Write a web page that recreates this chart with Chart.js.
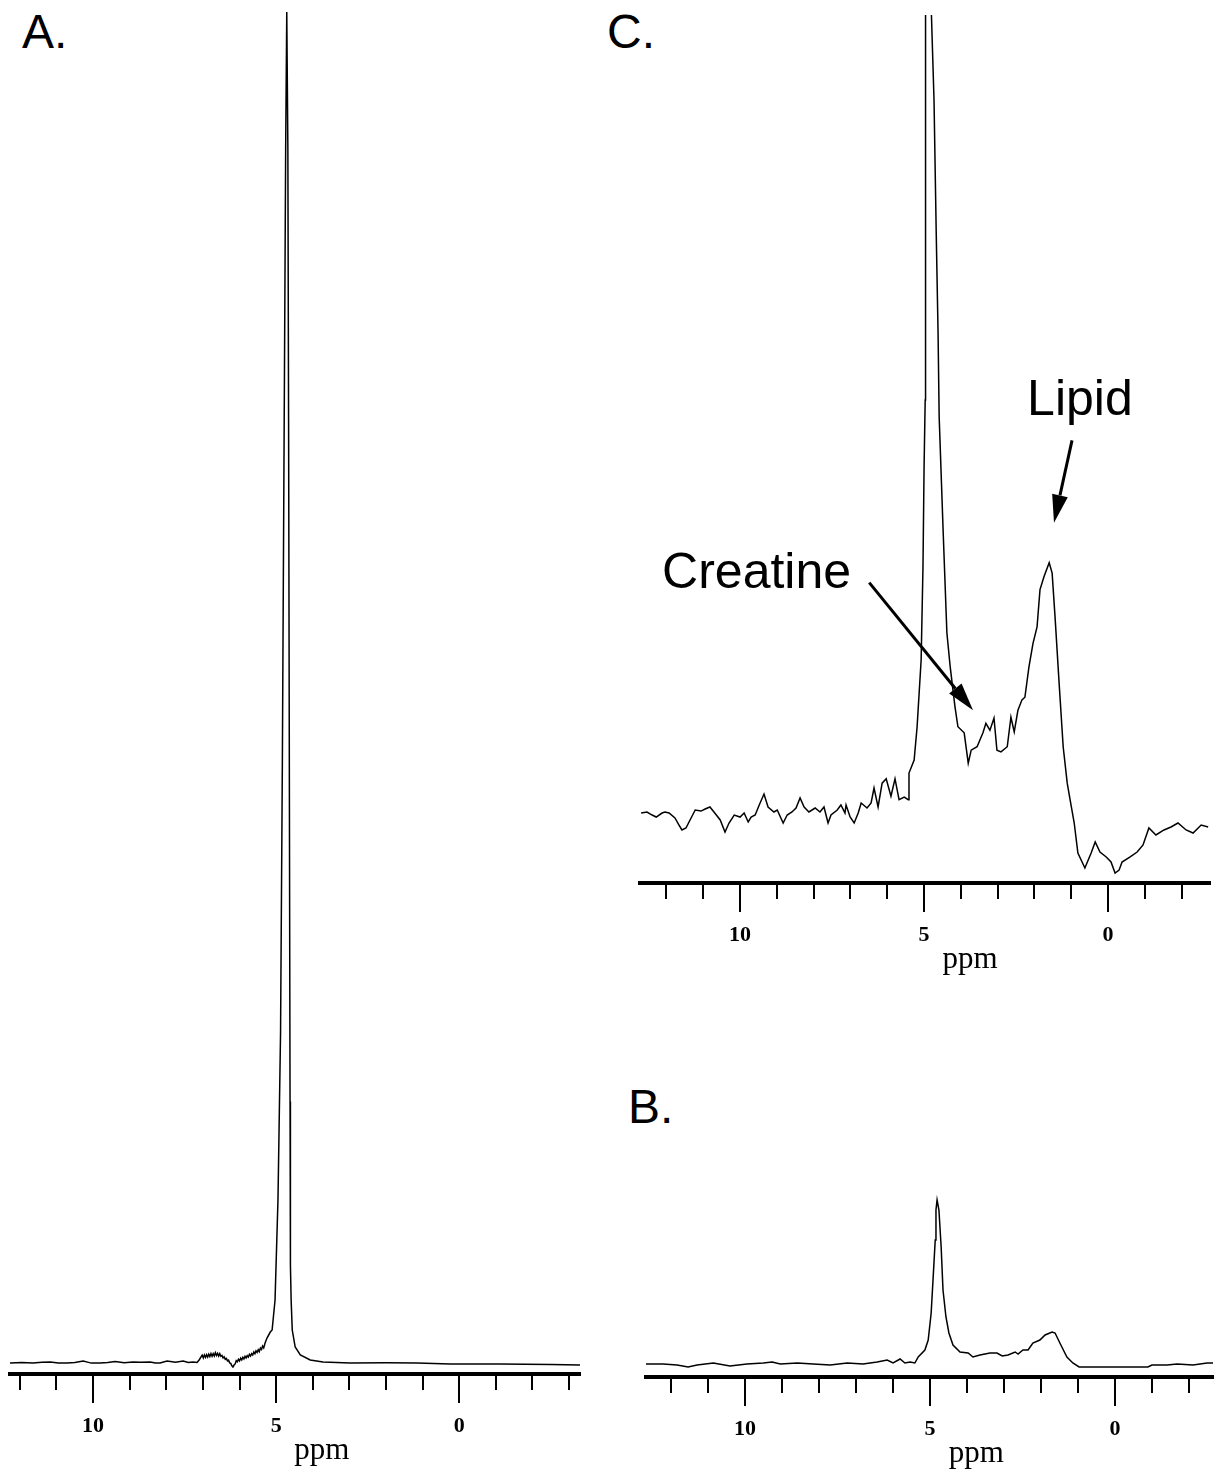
<!doctype html>
<html lang="en">
<head>
<meta charset="utf-8">
<title>Spectra A, B, C</title>
<script src="https://cdn.jsdelivr.net/npm/chart.js"></script>
<style>
  * { margin: 0; padding: 0; }
  body { background: #fff; width: 1215px; height: 1475px; position: relative; overflow: hidden; }
  canvas { position: absolute; }
  .tag { position: absolute; font-family: 'Liberation Sans', Arial, sans-serif; font-size: 48px; line-height: 1; color: #000; }
</style>
</head>
<body>
<div class="tag" style="left:22px;top:8px">A.</div>
<div class="tag" style="left:607px;top:8px">C.</div>
<div class="tag" style="left:628px;top:1083px">B.</div>
<canvas id="chartA" width="610" height="1475" style="left:0;top:0"></canvas>
<canvas id="chartC" width="595" height="1000" style="left:620px;top:0"></canvas>
<canvas id="chartB" width="595" height="315" style="left:620px;top:1160px"></canvas>
<script>
// ---- data (ppm, relative intensity) ----
const majorTicks = [10, 5, 0];
const ppmLabelAt = 3.75;

// A. unsuppressed water
const ppmA = [12.27, 11.95, 11.64, 11.40, 11.17, 10.95, 10.71, 10.50, 10.27, 10.05,
  9.81, 9.60, 9.40, 9.15, 8.91, 8.70, 8.44, 8.30, 8.17, 7.98,
  7.75, 7.54, 7.40, 7.27, 7.16, 7.10, 7.06, 7.02, 6.99, 6.96,
  6.93, 6.90, 6.87, 6.84, 6.81, 6.78, 6.75, 6.72, 6.69, 6.66,
  6.63, 6.60, 6.57, 6.54, 6.51, 6.48, 6.45, 6.42, 6.39, 6.36,
  6.33, 6.30, 6.27, 6.24, 6.21, 6.18, 6.15, 6.12, 6.09, 6.06,
  6.03, 6.00, 5.97, 5.94, 5.91, 5.88, 5.85, 5.82, 5.79, 5.76,
  5.73, 5.70, 5.67, 5.64, 5.61, 5.58, 5.55, 5.52, 5.49, 5.46,
  5.43, 5.40, 5.37, 5.34, 5.30, 5.25, 5.16, 5.11,
  5.03, 4.95, 4.88, 4.83, 4.78, 4.74, 4.71, 4.68, 4.66, 4.64,
  4.62, 4.61, 4.59, 4.56, 4.48, 4.34, 4.07, 3.72, 2.98, 2.00,
  1.15, 0.25, -1.12, -2.50, -3.30];
const intA = [0.81, 0.85, 0.81, 0.86, 0.88, 0.80, 0.81, 0.84, 0.95, 0.80,
  0.81, 0.85, 0.92, 0.82, 0.88, 0.86, 0.88, 0.80, 0.81, 0.95,
  0.86, 0.95, 0.84, 0.88, 0.84, 1.05, 1.22, 1.38, 1.18, 1.40,
  1.22, 1.42, 1.24, 1.46, 1.28, 1.50, 1.30, 1.50, 1.32, 1.56,
  1.36, 1.52, 1.32, 1.50, 1.30, 1.36, 1.18, 1.26, 1.08, 1.14,
  0.96, 1.02, 0.82, 0.78, 0.60, 0.52, 0.66, 0.74, 0.98, 0.90,
  1.08, 0.96, 1.16, 1.04, 1.22, 1.10, 1.30, 1.18, 1.34, 1.24,
  1.44, 1.32, 1.50, 1.40, 1.62, 1.48, 1.70, 1.58, 1.78, 1.64,
  1.90, 1.80, 2.05, 1.92, 2.30, 2.64, 3.08, 3.23,
  5.43, 12.8, 25.0, 45.0, 70.0, 90.0, 100, 90.0, 70.0, 45.0,
  20.0, 8.0, 5.4, 3.23, 1.98, 1.40, 1.03, 0.88, 0.81, 0.82,
  0.81, 0.73, 0.73, 0.70, 0.66];

// C. water suppressed, expanded
const ppmC = [12.69, 12.53, 12.39, 12.28, 12.12, 12.04, 11.93, 11.77, 11.66, 11.58,
  11.47, 11.36, 11.22, 11.06, 10.95, 10.82, 10.71, 10.54, 10.41, 10.30,
  10.16, 10.00, 9.89, 9.78, 9.70, 9.59, 9.48, 9.35, 9.24, 9.08,
  8.99, 8.83, 8.72, 8.59, 8.48, 8.37, 8.26, 8.13, 7.96, 7.83,
  7.72, 7.61, 7.53, 7.36, 7.26, 7.15, 7.12, 7.01, 6.90, 6.79,
  6.71, 6.55, 6.44, 6.36, 6.25, 6.14, 6.03, 5.90, 5.79, 5.68,
  5.54, 5.43, 5.41, 5.27, 5.19, 5.08, 5.03, 5.00, 4.97, 4.96,
  4.89, 4.80, 4.73, 4.67, 4.62, 4.59, 4.48, 4.38, 4.29, 4.16,
  4.08, 3.91, 3.80, 3.72, 3.56, 3.40, 3.32, 3.21, 3.10, 3.02,
  2.91, 2.74, 2.64, 2.55, 2.45, 2.34, 2.26, 2.15, 2.04, 1.93,
  1.85, 1.74, 1.60, 1.52, 1.44, 1.33, 1.22, 1.11, 1.03, 0.92,
  0.82, 0.63, 0.46, 0.35, 0.22, 0.05, -0.08, -0.19, -0.30, -0.38,
  -0.60, -0.79, -0.95, -1.11, -1.30, -1.52, -1.71, -1.90, -2.12, -2.31,
  -2.53, -2.72];
const intC = [8.06, 8.18, 7.83, 7.60, 8.06, 8.18, 8.06, 7.49, 6.68, 6.11,
  6.34, 7.26, 8.41, 8.29, 8.53, 8.76, 8.18, 7.26, 5.88, 6.91,
  7.83, 7.60, 8.06, 7.03, 7.60, 7.83, 8.99, 10.25, 8.76, 8.18,
  8.41, 6.91, 7.83, 8.18, 8.64, 9.79, 8.76, 8.18, 8.64, 8.18,
  8.76, 6.91, 7.83, 8.41, 8.99, 8.06, 8.99, 7.60, 6.91, 8.06,
  9.22, 8.64, 9.22, 10.94, 8.76, 11.5, 12.0, 10.0, 12.0, 9.6,
  9.9, 9.6, 12.67, 14.17, 17.97, 25.69, 36.41, 47.93, 55.65, 100,
  250, 100, 90.2, 74.9, 63.4, 53.7, 40.3, 28.8, 24.9, 20.3,
  18.0, 17.3, 13.8, 15.3, 15.7, 17.3, 18.4, 17.6, 19.0, 15.3,
  15.1, 15.7, 19.1, 17.4, 19.9, 21.1, 21.4, 24.9, 27.6, 29.5,
  33.8, 35.3, 36.9, 35.7, 30.6, 23.0, 15.7, 11.5, 9.56, 6.91,
  3.46, 1.73, 3.46, 4.72, 3.57, 3.00, 2.42, 1.15, 1.50, 2.42,
  3.00, 3.57, 4.38, 6.34, 5.53, 6.11, 6.45, 6.91, 6.11, 5.76,
  6.68, 6.45];

// B. water suppressed
const ppmB = [12.68, 12.22, 11.84, 11.54, 11.30, 10.86, 10.41, 9.95, 9.51, 9.27,
  9.05, 8.59, 8.16, 7.70, 7.24, 6.81, 6.43, 6.16, 6.00, 5.81,
  5.68, 5.54, 5.41, 5.32, 5.14, 5.05, 4.97, 4.92, 4.86, 4.84,
  4.81, 4.76, 4.70, 4.65, 4.57, 4.49, 4.38, 4.19, 3.97, 3.84,
  3.65, 3.38, 3.19, 3.05, 2.89, 2.70, 2.62, 2.49, 2.35, 2.22,
  2.03, 1.89, 1.70, 1.62, 1.49, 1.30, 1.14, 0.97, -0.89, -1.00,
  -1.41, -1.68, -2.11, -2.49, -2.65];
const intB = [6.5, 6.5, 6.0, 5.0, 6.0, 7.0, 5.5, 6.5, 7.0, 7.5,
  6.5, 7.0, 6.5, 6.0, 7.0, 6.5, 7.5, 8.5, 7.0, 9.0,
  7.0, 7.5, 7.0, 10.0, 13.5, 18.5, 32.0, 48.5, 68.5, 83.5,
  88.5, 83.5, 65.0, 43.5, 30.0, 22.0, 16.0, 12.5, 12.0, 10.0,
  11.0, 12.0, 12.0, 10.5, 11.0, 12.5, 11.5, 13.5, 13.5, 17.0,
  18.5, 21.0, 22.5, 22.0, 17.0, 10.0, 7.0, 5.0, 5.0, 6.0,
  6.0, 6.5, 6.0, 7.0, 7.0];

// annotations in C: [ppm, intensity]
const lipidText = [2.20, 53.9];
const lipidArrow = [[0.98, 51.0], [1.47, 41.5]];
const creatineText = [12.12, 34.0];
const creatineArrow = [[6.49, 34.6], [3.67, 19.9]];

// ---- plugins ----
const ppmAxis = {
  id: 'ppmAxis',
  afterDraw(chart) {
    const {ctx, chartArea: {bottom}, scales: {x}} = chart;
    ctx.save();
    ctx.strokeStyle = '#000';
    ctx.lineWidth = 2;
    ctx.beginPath();
    x.ticks.forEach(t => {
      const px = Math.round(x.getPixelForValue(t.value));
      const len = majorTicks.includes(t.value) ? 29 : 16;
      ctx.moveTo(px, bottom);
      ctx.lineTo(px, bottom + len);
    });
    ctx.stroke();
    ctx.fillStyle = '#000';
    ctx.font = '31px "Liberation Serif", "Times New Roman", serif';
    ctx.textAlign = 'center';
    ctx.textBaseline = 'alphabetic';
    ctx.fillText('ppm', x.getPixelForValue(ppmLabelAt), bottom + 85);
    ctx.restore();
  }
};

function drawArrow(ctx, x0, y0, x1, y1) {
  const a = Math.atan2(y1 - y0, x1 - x0), L = 28, W = 8;
  const bx = x1 - L * Math.cos(a), by = y1 - L * Math.sin(a);
  ctx.lineWidth = 3;
  ctx.beginPath();
  ctx.moveTo(x0, y0);
  ctx.lineTo(bx, by);
  ctx.stroke();
  ctx.beginPath();
  ctx.moveTo(x1, y1);
  ctx.lineTo(bx + W * Math.sin(a), by - W * Math.cos(a));
  ctx.lineTo(bx - W * Math.sin(a), by + W * Math.cos(a));
  ctx.closePath();
  ctx.fill();
}

const notes = {
  id: 'notes',
  afterDatasetsDraw(chart) {
    const {ctx, scales: {x, y}} = chart;
    const px = p => [x.getPixelForValue(p[0]), y.getPixelForValue(p[1])];
    ctx.save();
    ctx.fillStyle = '#000';
    ctx.strokeStyle = '#000';
    ctx.font = '50px "Liberation Sans", Arial, sans-serif';
    ctx.textAlign = 'left';
    ctx.textBaseline = 'alphabetic';
    ctx.fillText('Lipid', ...px(lipidText));
    ctx.fillText('Creatine', ...px(creatineText));
    drawArrow(ctx, ...px(lipidArrow[0]), ...px(lipidArrow[1]));
    drawArrow(ctx, ...px(creatineArrow[0]), ...px(creatineArrow[1]));
    ctx.restore();
  }
};

// ---- chart builder ----
function spectrum(id, ppm, amp, o) {
  return new Chart(document.getElementById(id), {
    type: 'line',
    data: {
      datasets: [{
        data: ppm.map((p, i) => ({x: p, y: amp[i]})),
        borderColor: '#000',
        borderWidth: 1.5,
        pointRadius: 0,
        tension: 0,
        fill: false
      }]
    },
    options: {
      responsive: false,
      animation: false,
      events: [],
      layout: {padding: o.pad},
      plugins: {legend: {display: false}, tooltip: {enabled: false}},
      scales: {
        x: {
          type: 'linear',
          reverse: true,
          min: o.min,
          max: o.max,
          afterFit: s => { s.height = o.axisH; },
          border: {display: true, color: '#000', width: 4},
          grid: {display: true, drawOnChartArea: false, drawTicks: true, tickLength: 29, color: 'rgba(0,0,0,0)'},
          ticks: {
            stepSize: 1,
            autoSkip: false,
            maxRotation: 0,
            includeBounds: false,
            padding: 10,
            color: '#000',
            font: {family: '"Liberation Serif", "Times New Roman", serif', size: 22, weight: 'bold'},
            callback: v => majorTicks.includes(v) ? String(v) : ''
          }
        },
        y: {display: false, min: 0, max: 100}
      }
    },
    plugins: [ppmAxis].concat(o.extra || [])
  });
}

spectrum('chartA', ppmA, intA, {min: -3.3, max: 12.27, axisH: 101, pad: {left: 10, right: 30, top: 12, bottom: 0}});
spectrum('chartC', ppmC, intC, {min: -2.77, max: 12.72, axisH: 117, pad: {left: 20, right: 5, top: 15, bottom: 0}, extra: [notes]});
spectrum('chartB', ppmB, intB, {min: -2.65, max: 12.68, axisH: 98, pad: {left: 26, right: 2, top: 17, bottom: 0}});
</script>
</body>
</html>
